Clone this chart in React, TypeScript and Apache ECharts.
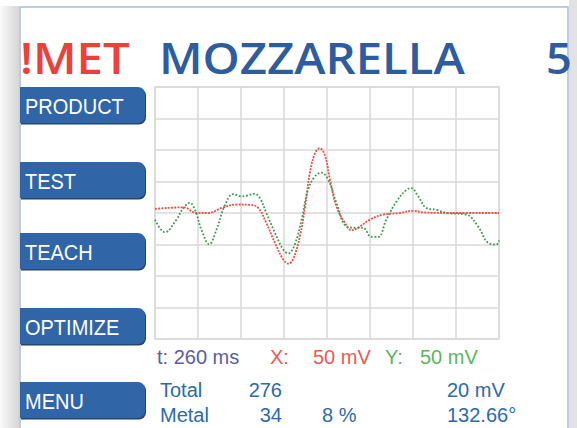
import React, { useEffect, useRef } from "react";
import * as echarts from "echarts";

// time in divisions (8 div = 260 ms), amplitude in divisions (1 div = 50 mV)
const xChannel: [number, number][] = [
  [0, 0.13], [0.66, 0.18], [0.97, 0], [1.24, 0], [1.55, 0.16], [1.9, 0.27], [2.21, 0.26],
  [2.4, 0.16], [2.59, -0.32], [2.79, -0.95], [2.98, -1.47], [3.1, -1.61], [3.21, -1.47],
  [3.37, -0.74], [3.49, 0.21], [3.6, 1.26], [3.72, 1.89], [3.83, 2.05], [3.95, 1.84],
  [4.07, 1.05], [4.22, 0.21], [4.42, -0.32], [4.57, -0.55], [4.72, -0.47], [5.0, -0.21],
  [5.31, -0.05], [5.69, 0], [6.0, 0.07], [6.24, 0.02], [6.86, 0], [8, 0],
];
const yChannel: [number, number][] = [
  [0, -0.21], [0.23, -0.61], [0.5, -0.21], [0.66, 0.16], [0.81, 0.32], [0.93, 0.1],
  [1.08, -0.53], [1.26, -0.99], [1.43, -0.53], [1.63, 0.26], [1.82, 0.6], [2.01, 0.53],
  [2.13, 0.55], [2.32, 0.61], [2.44, 0.47], [2.59, 0], [2.79, -0.63], [2.98, -1.16],
  [3.1, -1.28], [3.25, -1.0], [3.41, -0.21], [3.56, 0.74], [3.72, 1.16], [3.87, 1.28],
  [4.03, 1.05], [4.22, 0.32], [4.45, -0.42], [4.69, -0.47], [4.84, -0.47], [5.03, -0.76],
  [5.19, -0.76], [5.38, -0.21], [5.62, 0.37], [5.85, 0.74], [5.96, 0.79], [6.12, 0.53],
  [6.31, 0.16], [6.55, 0.1], [6.78, 0], [7.24, -0.05], [7.51, -0.42], [7.75, -0.95],
  [7.94, -1.0], [8, -0.87],
];

const buttons = ["PRODUCT", "TEST", "TEACH", "OPTIMIZE", "MENU"];
const buttonTops = [87, 162, 233, 308, 382];
const titleWarn = "!MET";
const titleProduct = "MOZZARELLA";
const titleNumber = "5";
const scaleTime = "t: 260 ms";
const scaleX = ["X:", "50 mV"];
const scaleY = ["Y:", "50 mV"];
const totalRow = ["Total", "276", "20 mV"];
const metalRow = ["Metal", "34", "8 %", "132.66°"];

export default function App() {
  const ref = useRef<HTMLDivElement>(null);
  useEffect(() => {
    const chart = echarts.init(ref.current!, null, { renderer: "svg" });
    const sans = "'Liberation Sans', Arial, sans-serif";
    const blue = "#2b6aae";
    const btnGraphics: any[] = [];
    buttons.forEach((b, i) => {
      const t = buttonTops[i];
      btnGraphics.push({
        type: "rect",
        shape: { x: 21, y: t + 1.5, width: 125, height: 36, r: [0, 7, 7, 0] },
        style: { fill: "#24466f" },
        z: 5,
      });
      btnGraphics.push({
        type: "rect",
        shape: { x: 20, y: t, width: 125, height: 36, r: [0, 7, 7, 0] },
        style: { fill: "#3065a8" },
        z: 6,
      });
      btnGraphics.push({
        type: "text",
        x: 25,
        y: t + 19,
        scaleY: 1.08,
        style: {
          text: b,
          fill: "#ffffff",
          font: `20px ${sans}`,
          verticalAlign: "middle",
        },
        z: 7,
      });
    });

    const txt = (text: string, x: number, y: number, fill: string, align = "left", size = 20) => ({
      type: "text",
      x,
      y,
      style: { text, fill, font: `${size}px ${sans}`, verticalAlign: "middle", align },
      z: 8,
    });
    const titleFont = "600 43px 'Open Sans', sans-serif";

    chart.setOption({
      animation: false,
      backgroundColor: "#ffffff",
      grid: {
        left: 155,
        top: 87,
        width: 344,
        height: 252,
        show: true,
        backgroundColor: "#ffffff",
        borderColor: "#d9d9d9",
        borderWidth: 1.5,
      },
      xAxis: {
        type: "value",
        min: 0,
        max: 8,
        interval: 1,
        axisLine: { show: false },
        axisTick: { show: false },
        axisLabel: { show: false },
        splitLine: { lineStyle: { color: "#d9d9d9", width: 1.5 } },
      },
      yAxis: {
        type: "value",
        min: -4,
        max: 4,
        interval: 1,
        axisLine: { show: false },
        axisTick: { show: false },
        axisLabel: { show: false },
        splitLine: { lineStyle: { color: "#d9d9d9", width: 1.5 } },
      },
      series: [
        {
          type: "line",
          data: xChannel,
          smooth: 0.4,
          showSymbol: false,
          lineStyle: { color: "#ee4f49", width: 1.8, type: [2, 1.2] },
          z: 3,
        },
        {
          type: "line",
          data: yChannel,
          smooth: 0.4,
          showSymbol: false,
          lineStyle: { color: "#3f9a4f", width: 1.8, type: [1.8, 1.8] },
          z: 4,
        },
      ],
      graphic: [
        {
          type: "rect",
          shape: { x: 0, y: 0, width: 19, height: 428 },
          style: {
            fill: new echarts.graphic.LinearGradient(0, 0, 1, 0, [
              { offset: 0, color: "#fafafa" },
              { offset: 1, color: "#d6d6d6" },
            ]),
          },
          z: 1,
        },
        {
          type: "rect",
          shape: { x: 0, y: 0, width: 577, height: 6 },
          style: { fill: "#ffffff" },
          z: 1,
        },
        {
          type: "rect",
          shape: { x: 569, y: 0, width: 8, height: 428 },
          style: { fill: "#e2e2e2" },
          z: 1,
        },
        {
          type: "polyline",
          shape: { points: [[20, 428], [20, 7], [568, 7], [568, 428]] },
          style: { stroke: "#a7bbe0", lineWidth: 1.5, fill: null },
          z: 2,
        },
        {
          type: "text",
          x: 20,
          y: 57,
          scaleX: 1.1,
          style: { text: titleWarn, fill: "#ee3f3a", font: titleFont, verticalAlign: "middle" },
          z: 8,
        },
        {
          type: "text",
          x: 159,
          y: 57,
          scaleX: 1.1,
          style: { text: titleProduct, fill: "#2d5c9f", font: titleFont, verticalAlign: "middle" },
          z: 8,
        },
        {
          type: "text",
          x: 546,
          y: 57,
          scaleX: 1.05,
          style: { text: titleNumber, fill: "#2d5c9f", font: titleFont, verticalAlign: "middle" },
          z: 8,
        },
        ...btnGraphics,
        txt(scaleTime, 157, 357, "#5a5ea6"),
        txt(scaleX[0], 270, 357, "#ec5a55"),
        txt(scaleX[1], 313, 357, "#ec5a55"),
        txt(scaleY[0], 385, 357, "#5cb660"),
        txt(scaleY[1], 420, 357, "#5cb660"),
        txt(totalRow[0], 160, 390, blue),
        txt(totalRow[1], 282, 390, blue, "right"),
        txt(totalRow[2], 447, 390, blue),
        txt(metalRow[0], 160, 415, blue),
        txt(metalRow[1], 282, 415, blue, "right"),
        txt(metalRow[2], 322, 415, blue),
        txt(metalRow[3], 447, 415, blue),
      ],
    });
    return () => chart.dispose();
  }, []);
  return (
    <div
      ref={ref}
      style={{ position: "fixed", left: 0, top: 0, width: 577, height: 428 }}
    />
  );
}
